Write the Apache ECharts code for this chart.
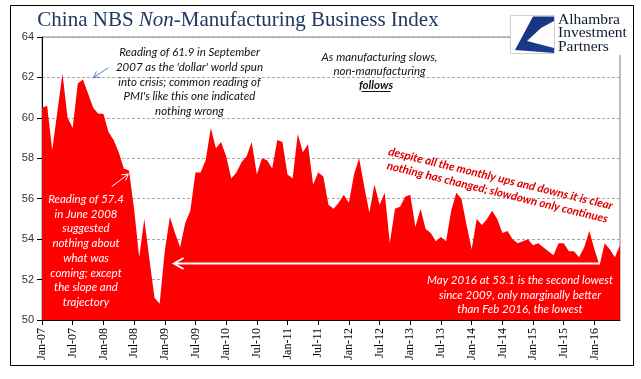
<!DOCTYPE html>
<html><head><meta charset="utf-8">
<script src="https://cdn.jsdelivr.net/npm/echarts@6/dist/echarts.min.js"></script>
<style>html,body{margin:0;padding:0;background:#fff}#c{width:641px;height:379px}</style>
</head><body><div id="c"></div>
<script>
// Month names and year codes used to build category labels (Jan-07 ... Jun-16)
const monthNames = ['Jan','Feb','Mar','Apr','May','Jun','Jul','Aug','Sep','Oct','Nov','Dec'];
const yearCodes = ['07','08','09','10','11','12','13','14','15','16'];
const lastYearMonths = 6; // data ends Jun-16

// China NBS Non-Manufacturing Business Index, monthly values
const values2007 = [60.5, 60.6, 58.4, 60.3, 62.2, 60.0, 59.5, 61.7, 61.9, 61.2, 60.5, 60.2];
const values2008 = [60.2, 59.3, 58.9, 58.3, 57.5, 57.4, 55.5, 53.1, 55.0, 53.0, 51.1, 50.8];
const values2009 = [53.4, 55.1, 54.3, 53.6, 54.8, 55.4, 57.3, 57.3, 57.9, 59.5, 58.5, 58.8];
const values2010 = [58.1, 57.0, 57.3, 57.8, 58.1, 58.8, 57.2, 58.0, 57.9, 57.5, 58.9, 58.8];
const values2011 = [57.2, 57.0, 59.2, 58.3, 58.7, 56.7, 57.3, 57.1, 55.7, 55.5, 55.8, 56.2];
const values2012 = [55.8, 57.2, 58.0, 56.6, 55.3, 56.7, 55.7, 56.3, 53.8, 55.5, 55.6, 56.1];
const values2013 = [56.2, 54.6, 55.5, 54.5, 54.3, 53.9, 54.1, 53.9, 55.4, 56.3, 56.0, 54.7];
const values2014 = [53.5, 55.0, 54.7, 55.0, 55.4, 55.0, 54.3, 54.4, 54.0, 53.8, 53.9, 54.0];
const values2015 = [53.7, 53.8, 53.6, 53.4, 53.2, 53.8, 53.8, 53.4, 53.4, 53.1, 53.6, 54.4];
const values2016 = [53.5, 52.7, 53.8, 53.5, 53.1, 53.7];

const yMin = 50, yMax = 64, yStep = 2;
const labelEvery = 6; // tick labels every 6 months: Jan-07, Jul-07, ...

const seriesValues = [].concat(values2007, values2008, values2009, values2010, values2011,
  values2012, values2013, values2014, values2015, values2016);
const categories = [];
yearCodes.forEach(function (yc, yi) {
  const n = yi === yearCodes.length - 1 ? lastYearMonths : 12;
  for (let m = 0; m < n; m++) categories.push(monthNames[m] + '-' + yc);
});

function arrow(x1, y1, x2, y2, color, width, head) {
  const dx = x2 - x1, dy = y2 - y1, L = Math.sqrt(dx * dx + dy * dy);
  const ux = dx / L, uy = dy / L, a = Math.PI / 6;
  const c = Math.cos(a), s = Math.sin(a);
  const w1 = [x2 - head * (ux * c - uy * s), y2 - head * (uy * c + ux * s)];
  const w2 = [x2 - head * (ux * c + uy * s), y2 - head * (uy * c - ux * s)];
  return [
    { type: 'line', z: 100, shape: { x1: x1, y1: y1, x2: x2, y2: y2 }, style: { stroke: color, lineWidth: width } },
    { type: 'polyline', z: 100, shape: { points: [w1, [x2, y2], w2] }, style: { stroke: color, lineWidth: width, fill: null } }
  ];
}

const noteFont = 'Lato';
const graphics = [
  { type: 'rect', z: 100, shape: { x: 10.5, y: 5.5, width: 623, height: 360 }, style: { fill: null, stroke: '#000', lineWidth: 1 } },
  { type: 'text', z: 100, x: 238, y: 20, style: {
      text: '{n|China NBS }{i|Non}{n|-Manufacturing Business Index}',
      align: 'center', verticalAlign: 'middle',
      rich: {
        n: { fontFamily: 'Liberation Serif', fontSize: 21, fill: '#1f3864' },
        i: { fontFamily: 'Liberation Serif', fontSize: 21, fontStyle: 'italic', fill: '#1f3864' }
      } } },
  // logo
  { type: 'rect', z: 100, shape: { x: 510, y: 8, width: 122, height: 47 }, style: { fill: '#fff' } },
  { type: 'rect', z: 101, shape: { x: 510.5, y: 15.5, width: 44, height: 38 }, style: { fill: '#fff', stroke: '#d0d0d0', lineWidth: 1 } },
  { type: 'polygon', z: 102, shape: { points: [[533, 16.5], [554, 16.5], [554, 21], [541, 28], [527, 41], [554, 48], [554, 53], [515, 50]] },
    style: { fill: new echarts.graphic.LinearGradient(0, 0, 1, 1, [{ offset: 0, color: '#16307a' }, { offset: 1, color: '#1d3f92' }]) } },
  { type: 'text', z: 102, x: 558, y: 13, style: {
      text: 'Alhambra\nInvestment\nPartners', fontFamily: 'Liberation Serif', fontSize: 15.5, lineHeight: 13.4,
      fill: '#111a33', align: 'left', verticalAlign: 'top' } },
  // top-left annotation
  { type: 'text', z: 100, x: 189.5, y: 45.4, style: {
      text: "Reading of 61.9 in September\n2007 as the 'dollar' world spun\ninto crisis; common reading of\nPMI's like this one indicated\nnothing wrong",
      fontFamily: noteFont, fontStyle: 'italic', fontSize: 11.5, lineHeight: 14.6, fill: '#111',
      align: 'center', verticalAlign: 'top' } },
  // top-middle annotation
  { type: 'text', z: 100, x: 379.5, y: 50.7, style: {
      text: 'As manufacturing slows,\nnon-manufacturing', fontFamily: noteFont, fontStyle: 'italic', fontSize: 11.5,
      lineHeight: 14, fill: '#111', align: 'center', verticalAlign: 'top' } },
  { type: 'text', z: 100, x: 376, y: 85, style: {
      text: 'follows', fontFamily: noteFont, fontStyle: 'italic', fontWeight: 'bold', fontSize: 11.5,
      fill: '#111', align: 'center', verticalAlign: 'middle' } },
  { type: 'line', z: 100, shape: { x1: 361.5, y1: 91.5, x2: 390.5, y2: 91.5 }, style: { stroke: '#111', lineWidth: 1 } },
  // red rotated annotation
  { type: 'text', z: 100, x: 499, y: 185.5, rotation: -0.24, style: {
      text: 'despite all the monthly ups and downs it is clear\nnothing has changed; slowdown only continues',
      fontFamily: noteFont, fontStyle: 'italic', fontWeight: 'bold', fontSize: 11.5, lineHeight: 14,
      fill: '#e00000', align: 'center', verticalAlign: 'middle' } },
  // white annotations inside area
  { type: 'text', z: 100, x: 86, y: 192, style: {
      text: 'Reading of 57.4\nin June 2008\nsuggested\nnothing about\nwhat was\ncoming; except\nthe slope and\ntrajectory',
      fontFamily: noteFont, fontStyle: 'italic', fontSize: 11.5, lineHeight: 14.7, fill: '#fff',
      align: 'center', verticalAlign: 'top' } },
  { type: 'text', z: 100, x: 520, y: 273.2, style: {
      text: 'May 2016 at 53.1 is the second lowest\nsince 2009, only marginally better\nthan Feb 2016, the lowest',
      fontFamily: noteFont, fontStyle: 'italic', fontSize: 11.5, lineHeight: 14.5, fill: '#fff',
      align: 'center', verticalAlign: 'top' } }
].concat(
  arrow(108.3, 67.7, 93.3, 77.7, '#4f81bd', 1, 7),
  arrow(111.7, 186.7, 128.3, 174, '#fff', 1, 7),
  arrow(599, 263.5, 174, 263.5, '#fff', 2, 11)
);

const chart = echarts.init(document.getElementById('c'), null, { renderer: 'canvas' });
chart.setOption({
  animation: false,
  backgroundColor: '#fff',
  grid: { left: 42, top: 37, right: 21, bottom: 59, show: true, borderColor: '#7f7f7f', borderWidth: 1, backgroundColor: 'transparent' },
  xAxis: {
    type: 'category', data: categories, boundaryGap: false,
    axisLine: { lineStyle: { color: '#000', width: 1 } },
    axisTick: { show: true, length: 5, interval: function (i) { return i % labelEvery === 0; }, lineStyle: { color: '#000' } },
    axisLabel: { interval: function (i) { return i % labelEvery === 0; }, rotate: 90, margin: 8,
      fontFamily: 'Liberation Serif', fontSize: 12, color: '#000' },
    splitLine: { show: false }
  },
  yAxis: {
    type: 'value', min: yMin, max: yMax, interval: yStep,
    axisLine: { show: true, lineStyle: { color: '#000', width: 1 } },
    axisTick: { show: true, length: 5, lineStyle: { color: '#000' } },
    axisLabel: { fontFamily: 'Liberation Sans', fontSize: 11, color: '#333', margin: 8 },
    splitLine: { show: true, lineStyle: { color: '#a6a6a6', type: [3, 2], width: 1 } }
  },
  series: [{
    type: 'line', data: seriesValues, symbol: 'none', smooth: false,
    lineStyle: { width: 0 }, areaStyle: { color: '#ff0000', opacity: 1, origin: 'start' },
    z: 3
  }],
  graphic: graphics
});
</script></body></html>
